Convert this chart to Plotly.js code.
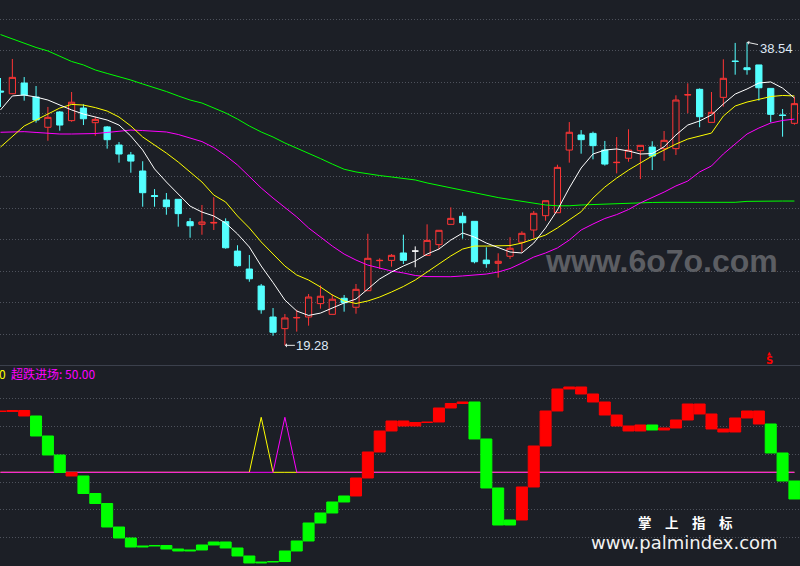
<!DOCTYPE html>
<html>
<head>
<meta charset="utf-8">
<script src="https://cdn.plot.ly/plotly-3.0.1.min.js"></script>
<style>
html,body{margin:0;padding:0;background:#1c1f26;}
#chart{width:800px;height:566px;}
</style>
</head>
<body>
<div id="chart"></div>
<script>
// ---- day index (x categories) ----
const day = [0,1,2,3,4,5,6,7,8,9,10,11,12,13,14,15,16,17,18,19,20,21,22,23,24,25,26,27,28,29,30,31,32,33,34,35,36,37,38,39,40,41,42,43,44,45,46,47,48,49,50,51,52,53,54,55,56,57,58,59,60,61,62,63,64,65,66,67];

// ---- candles ----
const open  = [35.44,35.27,35.95,35.06,33.14,34.11,33.56,34.36,33.43,33.16,32.01,31.38,30.36,28.80,28.52,28.56,27.14,26.97,27.05,27.14,25.27,24.13,23.05,21.08,20.34,21.02,21.08,21.93,21.25,22.27,21.70,22.75,24.66,24.68,25.15,25.27,25.00,25.68,26.97,27.48,27.16,24.70,24.49,24.94,25.83,26.61,27.52,27.71,31.69,32.65,32.75,31.69,30.89,31.17,31.65,31.88,31.78,31.78,35.19,35.55,33.45,35.04,37.35,36.92,37.10,35.61,33.92,33.39];
const high  = [36.27,37.48,36.33,35.76,34.43,34.17,35.38,34.60,33.81,33.22,32.20,31.57,30.98,29.21,28.96,28.56,27.37,28.20,28.69,27.35,25.64,25.02,23.18,21.65,21.27,21.54,22.54,23.09,22.52,22.48,23.18,26.37,24.81,25.08,26.31,25.57,26.97,26.59,28.05,27.73,27.16,25.51,25.13,26.15,26.53,27.82,28.47,30.76,33.47,32.96,32.86,32.27,32.52,33.01,31.99,32.25,32.90,35.17,35.93,35.61,35.38,37.46,38.50,38.54,37.10,35.61,34.30,35.08];
const low   = [34.43,35.25,34.83,33.43,32.28,32.92,33.49,33.28,32.60,31.78,30.89,30.25,28.09,28.09,27.58,26.82,26.12,26.31,26.61,25.42,24.28,23.32,21.29,19.89,19.28,20.15,20.53,21.61,21.25,21.42,21.29,22.75,24.13,24.28,24.45,24.24,25.00,25.36,26.97,26.06,24.49,24.21,23.58,24.77,25.19,26.08,27.20,27.71,30.89,31.46,31.10,30.70,30.21,30.95,29.85,30.42,31.01,31.38,34.03,33.14,33.45,34.45,36.48,36.48,34.83,33.45,32.54,33.30];
const close = [35.38,36.31,35.19,33.60,33.77,33.28,34.73,33.68,33.64,32.35,31.44,30.99,28.98,28.74,28.09,27.65,26.88,27.12,27.09,25.48,24.34,23.51,21.54,20.11,21.02,21.05,22.35,22.40,22.21,21.99,22.84,24.81,24.68,25.00,24.68,25.27,25.95,26.59,27.35,27.07,24.59,24.47,24.62,25.45,26.40,27.67,28.47,30.59,32.82,32.35,31.97,30.80,30.91,31.69,31.99,31.31,32.31,34.87,35.21,33.81,34.09,36.25,37.32,36.80,35.65,33.96,33.89,34.64];

// ---- moving averages ----
const maWhite  = [34.24,35.13,35.19,35.06,34.87,34.55,34.24,33.98,33.79,33.60,33.28,32.58,31.69,30.49,29.66,28.90,28.13,27.75,27.50,27.05,26.36,25.53,24.32,23.27,22.16,21.46,21.18,21.33,21.65,21.97,22.22,22.86,23.50,23.94,24.32,24.64,25.08,25.40,25.97,26.42,26.16,25.78,25.47,25.21,25.15,25.78,26.74,27.88,29.28,30.55,31.44,31.69,31.76,31.63,31.44,31.47,31.90,32.65,33.28,33.54,33.92,34.62,35.25,35.57,35.95,36.02,35.63,35.00];
const maYellow = [31.88,32.58,33.22,33.60,33.98,34.36,34.59,34.55,34.39,34.17,33.79,33.22,32.52,32.01,31.50,30.93,30.30,29.66,28.83,28.39,27.50,26.74,25.85,25.08,24.32,23.75,23.43,22.99,22.48,22.10,21.94,22.10,22.35,22.67,23.02,23.43,23.94,24.45,24.96,25.40,25.59,25.59,25.59,25.62,25.78,26.04,26.29,26.74,27.24,27.77,28.64,29.34,29.91,30.42,30.87,31.31,31.69,32.07,32.39,32.58,32.77,33.85,34.49,34.74,34.93,35.09,35.16,35.13];
const maMagenta= [32.82,32.84,32.86,32.81,32.74,32.71,32.71,32.71,32.74,32.81,32.90,32.96,32.93,32.87,32.84,32.68,32.46,32.23,31.85,31.34,30.74,29.98,29.28,28.64,28.01,27.44,26.74,26.16,25.59,25.08,24.70,24.38,24.19,24.00,23.88,23.72,23.65,23.64,23.64,23.69,23.75,23.81,23.94,24.16,24.51,24.89,25.15,25.47,25.97,26.61,26.99,27.34,27.59,27.91,28.33,28.67,29.02,29.41,29.72,30.30,30.68,31.44,32.07,32.71,33.09,33.41,33.57,33.66];
const maGreen  = [39.03,38.75,38.49,38.21,37.99,37.67,37.32,37.10,36.78,36.56,36.36,36.14,35.89,35.67,35.41,35.13,34.87,34.68,34.36,34.05,33.66,33.22,32.84,32.52,32.14,31.82,31.47,31.15,30.80,30.47,30.30,30.17,30.07,29.98,29.88,29.79,29.60,29.44,29.28,29.15,28.96,28.80,28.67,28.55,28.42,28.33,28.20,28.15,28.15,28.20,28.23,28.26,28.29,28.33,28.33,28.36,28.37,28.37,28.37,28.37,28.37,28.37,28.37,28.43,28.45,28.45,28.45,28.45];

// ---- lower indicator ----
const indStart = 83.44;
const indValue = [83.16,83.71,80.71,69.80,59.44,49.89,47.98,38.44,32.98,20.16,14.16,9.25,9.80,10.07,8.16,7.07,7.62,10.35,11.98,8.71,4.35,0.53,1.07,1.35,7.07,12.53,22.35,27.80,33.80,37.07,46.89,61.07,72.53,77.98,75.25,77.16,77.44,85.07,87.53,88.35,68.16,41.44,21.25,23.98,41.98,64.35,83.44,95.44,96.53,92.71,88.35,81.25,75.25,72.53,75.80,73.07,74.16,78.53,87.25,81.80,73.62,71.98,79.62,83.44,76.35,60.53,45.25,35.44];
const indColor = ['r','r','r','g','g','g','r','g','g','g','g','g','g','g','g','g','g','g','g','g','g','g','g','g','g','g','g','g','g','g','r','r','r','r','r','r','r','r','r','r','g','g','g','g','r','r','r','r','r','r','r','r','r','r','r','g','r','r','r','r','r','r','r','r','r','g','g','g'];
const sigYellow  = [50,50,50,50,50,50,50,50,50,50,50,50,50,50,50,50,50,50,50,50,50,50,80,50,50,50,50,50,50,50,50,50,50,50,50,50,50,50,50,50,50,50,50,50,50,50,50,50,50,50,50,50,50,50,50,50,50,50,50,50,50,50,50,50,50,50,50,50];
const sigMagenta = [50,50,50,50,50,50,50,50,50,50,50,50,50,50,50,50,50,50,50,50,50,50,50,50,80,50,50,50,50,50,50,50,50,50,50,50,50,50,50,50,50,50,50,50,50,50,50,50,50,50,50,50,50,50,50,50,50,50,50,50,50,50,50,50,50,50,50,50];

// ---- labels ----
const hiLabel = {day: 63, price: 38.54, text: '38.54'};
const loLabel = {day: 24, price: 19.28, text: '19.28'};
const legendName = '超跌进场';
const legendValue = '50.00';

// ================= build =================
const BG = '#1c1f26';
const RED = '#ff3535', CYAN = '#54ffff';
const isDoji = i => open[i] === close[i];
const sel = (arr, f) => arr.filter((_, i) => f(i));
const notDoji = i => !isDoji(i);

const traces = [];
traces.push({
  type: 'candlestick', xaxis: 'x', yaxis: 'y',
  x: sel(day, notDoji), open: sel(open, notDoji), high: sel(high, notDoji),
  low: sel(low, notDoji), close: sel(close, notDoji),
  increasing: {line: {color: RED, width: 1}, fillcolor: BG},
  decreasing: {line: {color: CYAN, width: 1}, fillcolor: CYAN},
  whiskerwidth: 0, hoverinfo: 'skip', showlegend: false
});
traces.push({
  type: 'candlestick', xaxis: 'x', yaxis: 'y',
  x: sel(day, isDoji), open: sel(open, isDoji), high: sel(high, isDoji),
  low: sel(low, isDoji), close: sel(close, isDoji),
  increasing: {line: {color: '#ffffff', width: 1}, fillcolor: '#ffffff'},
  decreasing: {line: {color: '#ffffff', width: 1}, fillcolor: '#ffffff'},
  whiskerwidth: 0, hoverinfo: 'skip', showlegend: false
});
[[maGreen, '#00ff00'], [maMagenta, '#ff00ff'], [maYellow, '#ffff00'], [maWhite, '#ffffff']].forEach(([arr, c]) => {
  traces.push({type: 'scatter', mode: 'lines', x: day, y: arr, xaxis: 'x', yaxis: 'y',
    line: {color: c, width: 1}, hoverinfo: 'skip', showlegend: false});
});

// lower lines
traces.push({type: 'scatter', mode: 'lines', x: day, y: sigYellow, xaxis: 'x', yaxis: 'y2',
  line: {color: '#ffff00', width: 1}, hoverinfo: 'skip', showlegend: false});
traces.push({type: 'scatter', mode: 'lines', x: day, y: sigMagenta, xaxis: 'x', yaxis: 'y2',
  line: {color: '#ff00ff', width: 1}, hoverinfo: 'skip', showlegend: false});

// lower step bars (from previous value to current value)
const prev = indValue.map((v, i) => i === 0 ? indStart : indValue[i - 1]);
const barBase = indValue.map((v, i) => Math.min(v, prev[i]));
const barLen = indValue.map((v, i) => Math.abs(v - prev[i]));
const barCol = indColor.map(c => c === 'r' ? '#ff0000' : '#00ff00');
traces.push({type: 'bar', x: day, y: barLen, base: barBase, xaxis: 'x', yaxis: 'y3',
  width: 0.93, marker: {color: barCol, line: {color: barCol, width: 1}},
  hoverinfo: 'skip', showlegend: false});

const lowRange = [-1.11, 107.98];
const gridStyle = {gridcolor: '#4e525c', griddash: '1px,2px', gridwidth: 1};
const P = (px, py) => ({x: px / 800, y: 1 - py / 566, xref: 'paper', yref: 'paper',
  xanchor: 'center', yanchor: 'middle', showarrow: false, borderpad: 0, borderwidth: 0});

const layout = {
  width: 800, height: 566,
  margin: {l: 0, r: 0, t: 0, b: 0, pad: 0},
  paper_bgcolor: BG, plot_bgcolor: BG,
  showlegend: false, boxgap: 0.25, bargap: 0,
  font: {family: 'Liberation Sans, Arial, sans-serif', color: '#dfe6f0'},
  xaxis: {range: [-0.042, 67.47], showgrid: false, zeroline: false, showticklabels: false,
    ticks: '', showline: false, fixedrange: true, rangeslider: {visible: false}},
  yaxis: Object.assign({domain: [0.35512, 1], range: [18.03, 41.227],
    tickvals: [20,22,24,26,28,30,32,34,36,38,40], showticklabels: false, ticks: '',
    zeroline: false, showline: false, fixedrange: true}, gridStyle),
  yaxis2: Object.assign({domain: [0, 0.35336], range: lowRange,
    tickvals: [90.36, 75.09, 59.82, 44.55, 29.82, 14.55], showticklabels: false, ticks: '',
    zeroline: false, showline: false, fixedrange: true, anchor: 'x'}, gridStyle),
  yaxis3: {overlaying: 'y2', range: lowRange, showgrid: false, zeroline: false,
    showticklabels: false, ticks: '', showline: false, fixedrange: true, anchor: 'x'},
  shapes: [
    {type: 'line', xref: 'paper', yref: 'paper', x0: 0, x1: 1, y0: 1 - 365.5/566, y1: 1 - 365.5/566,
      line: {color: '#3b404c', width: 1}}
  ],
  annotations: [
    {x: hiLabel.day, y: hiLabel.price, xref: 'x', yref: 'y', text: hiLabel.text,
      showarrow: true, arrowhead: 1, arrowsize: 0.7, arrowwidth: 1, arrowcolor: '#e8e8e8',
      ax: 29, ay: 6, standoff: 0, font: {size: 13, color: '#dfe8f5'}},
    {x: loLabel.day, y: loLabel.price, xref: 'x', yref: 'y', text: loLabel.text,
      showarrow: true, arrowhead: 1, arrowsize: 0.7, arrowwidth: 1, arrowcolor: '#e8e8e8',
      ax: 28, ay: 0, standoff: 0, font: {size: 13, color: '#dfe8f5'}},
    Object.assign(P(0, 373.5), {xanchor: 'left', xshift: -1,
      text: '<span style="color:#ffff00">0</span>  <span style="color:#ff00ff">' + legendName + ': ' + legendValue + '</span>',
      font: {family: 'Noto Sans CJK SC, sans-serif', size: 12}}),
    Object.assign(P(661.5, 261), {text: '<b>www.6o7o.com</b>',
      font: {family: 'Liberation Sans, Arial, sans-serif', size: 32, color: '#5c5e63'}}),
    Object.assign(P(685, 521.5), {text: '<b>掌　上　指　标</b>',
      font: {family: 'Noto Sans CJK SC, sans-serif', size: 13.5, color: '#ffffff'}}),
    Object.assign(P(684.5, 542.5), {text: 'www.palmindex.com',
      font: {family: 'DejaVu Sans, sans-serif', size: 18, color: '#f2f2f2'}}),
    Object.assign(P(769, 360), {text: '<b>S</b>',
      font: {family: 'DejaVu Sans, sans-serif', size: 10, color: '#ff0000'}}),
    Object.assign(P(769, 352.5), {text: '▲',
      font: {family: 'DejaVu Sans, sans-serif', size: 5, color: '#ff0000'}})
  ]
};

Plotly.newPlot('chart', traces, layout, {staticPlot: true, displayModeBar: false});
</script>
</body>
</html>
